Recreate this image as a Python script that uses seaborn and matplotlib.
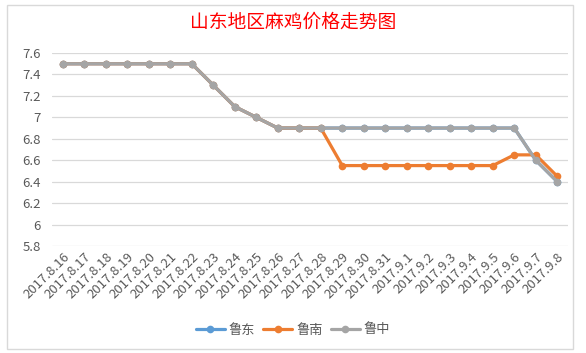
import matplotlib
matplotlib.use("Agg")
import matplotlib.pyplot as plt
import seaborn as sns
import pandas as pd
from matplotlib.ticker import FuncFormatter, MultipleLocator

dates = ["2017.8.16", "2017.8.17", "2017.8.18", "2017.8.19", "2017.8.20", "2017.8.21",
         "2017.8.22", "2017.8.23", "2017.8.24", "2017.8.25", "2017.8.26", "2017.8.27",
         "2017.8.28", "2017.8.29", "2017.8.30", "2017.8.31", "2017.9.1", "2017.9.2",
         "2017.9.3", "2017.9.4", "2017.9.5", "2017.9.6", "2017.9.7", "2017.9.8"]
ludong = [7.5, 7.5, 7.5, 7.5, 7.5, 7.5, 7.5, 7.3, 7.1, 7.0, 6.9, 6.9,
          6.9, 6.9, 6.9, 6.9, 6.9, 6.9, 6.9, 6.9, 6.9, 6.9, 6.6, 6.4]
lunan = [7.5, 7.5, 7.5, 7.5, 7.5, 7.5, 7.5, 7.3, 7.1, 7.0, 6.9, 6.9,
         6.9, 6.55, 6.55, 6.55, 6.55, 6.55, 6.55, 6.55, 6.55, 6.65, 6.65, 6.45]
luzhong = [7.5, 7.5, 7.5, 7.5, 7.5, 7.5, 7.5, 7.3, 7.1, 7.0, 6.9, 6.9,
           6.9, 6.9, 6.9, 6.9, 6.9, 6.9, 6.9, 6.9, 6.9, 6.9, 6.6, 6.4]
series_names = ["鲁东", "鲁南", "鲁中"]
title = "山东地区麻鸡价格走势图"

sns.set_theme(style="white")
plt.rcParams["font.family"] = ["Noto Sans CJK SC", "DejaVu Sans"]

rows = []
for name, vals in zip(series_names, [ludong, lunan, luzhong]):
    for i, (d, v) in enumerate(zip(dates, vals)):
        rows.append({"idx": i, "date": d, "price": v, "region": name})
df = pd.DataFrame(rows)

palette = {"鲁东": "#5B9BD5", "鲁南": "#ED7D31", "鲁中": "#A5A5A5"}

fig = plt.figure(figsize=(5.86, 3.53), dpi=100)
ax = fig.add_axes([52 / 586, 1 - 246 / 353, (568 - 52) / 586, (246 - 53) / 353])

sns.lineplot(data=df, x="idx", y="price", hue="region", hue_order=series_names,
             palette=palette, marker="o", markersize=5.5, markeredgewidth=0,
             linewidth=2.3, ax=ax, legend=True)

ax.set_xlim(-0.5, len(dates) - 0.5)
ax.set_ylim(5.8, 7.6)
ax.yaxis.set_major_locator(MultipleLocator(0.2))
ax.yaxis.set_major_formatter(FuncFormatter(lambda v, p: f"{v:g}"))
ax.grid(axis="y", color="#D9D9D9", linewidth=0.9)
ax.grid(axis="x", visible=False)
for s in ax.spines.values():
    s.set_visible(False)
ax.set_xticks(range(len(dates)))
ax.set_xticklabels(dates, rotation=45, ha="right", rotation_mode="anchor",
                   fontsize=9.5, color="#595959")
ax.tick_params(axis="y", labelsize=9.5, labelcolor="#595959", length=0, pad=8)
ax.tick_params(axis="x", length=0, pad=3)
ax.set_xlabel("")
ax.set_ylabel("")

handles, labels = ax.get_legend_handles_labels()
ax.legend(handles, labels, loc="center", bbox_to_anchor=(293 / 586, 1 - 330 / 353),
          bbox_transform=fig.transFigure, ncol=3, frameon=False, fontsize=9.5,
          handlelength=2.2, columnspacing=0.6, handletextpad=0.3, labelcolor="#595959")

fig.text(293 / 586, 1 - 22 / 353, title, color="#FF0000", fontsize=13.5,
         fontweight="medium", ha="center", va="center")

fig.patches.append(plt.Rectangle((0.012, 0.012), 0.965, 0.975, transform=fig.transFigure,
                                 fill=False, edgecolor="#D9D9D9", linewidth=1))

fig.savefig("out.png", dpi=100)
